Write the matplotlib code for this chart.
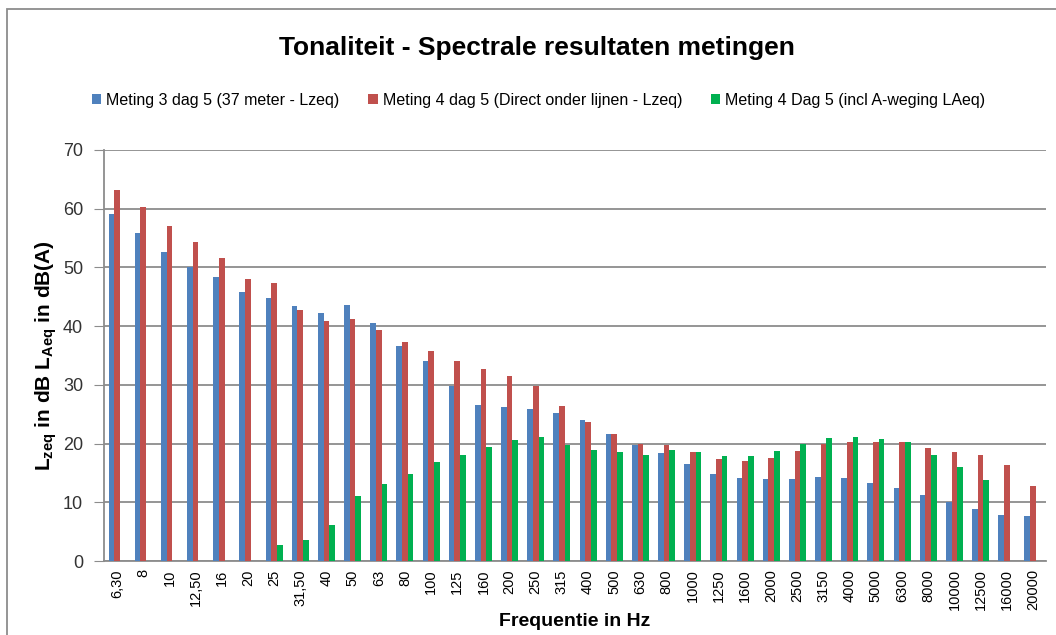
import matplotlib
matplotlib.use("Agg")
import matplotlib.pyplot as plt
import numpy as np
from matplotlib.patches import Rectangle

plt.rcParams['font.family'] = ['Liberation Sans', 'DejaVu Sans']
plt.rcParams['mathtext.fontset'] = 'custom'
plt.rcParams['mathtext.rm'] = 'Liberation Sans'
plt.rcParams['mathtext.bf'] = 'Liberation Sans:bold'

# Data
freqs = ["6,30", "8", "10", "12,50", "16", "20", "25", "31,50", "40", "50",
         "63", "80", "100", "125", "160", "200", "250", "315", "400", "500",
         "630", "800", "1000", "1250", "1600", "2000", "2500", "3150", "4000", "5000",
         "6300", "8000", "10000", "12500", "16000", "20000"]
meting3 = [59.1, 55.9, 52.7, 50.1, 48.3, 45.9, 44.8, 43.5, 42.2, 43.6,
           40.6, 36.6, 34.0, 29.8, 26.5, 26.2, 25.9, 25.2, 24.1, 21.6,
           19.8, 18.4, 16.6, 14.9, 14.1, 13.9, 13.9, 14.3, 14.2, 13.3,
           12.4, 11.3, 10.0, 8.9, 7.9, 7.6]
meting4 = [63.2, 60.3, 57.0, 54.3, 51.6, 48.0, 47.3, 42.8, 40.8, 41.2,
           39.3, 37.3, 35.8, 34.1, 32.7, 31.5, 29.8, 26.4, 23.7, 21.7,
           19.9, 19.8, 18.5, 17.4, 17.0, 17.6, 18.8, 19.9, 20.2, 20.2,
           20.3, 19.2, 18.6, 18.1, 16.4, 12.7]
meting4_a = [np.nan, np.nan, np.nan, np.nan, np.nan, np.nan, 2.8, 3.6, 6.2, 11.1,
             13.2, 14.9, 16.8, 18.1, 19.4, 20.6, 21.2, 19.8, 18.9, 18.5,
             18.0, 18.9, 18.5, 17.9, 17.9, 18.8, 20.0, 21.0, 21.2, 20.7,
             20.2, 18.1, 16.0, 13.8, np.nan, np.nan]

labels = ["Meting 3 dag 5 (37 meter - Lzeq)",
          "Meting 4 dag 5 (Direct onder lijnen - Lzeq)",
          "Meting 4 Dag 5 (incl A-weging LAeq)"]
colors = ["#4F81BD", "#C0504D", "#00B050"]

fig = plt.figure(figsize=(10.56, 6.35), dpi=100)
ax = fig.add_axes([0.0985, 0.1165, 0.892, 0.6473])

x = np.arange(len(freqs))
w = 0.218
for i, (vals, lab, col) in enumerate(zip([meting3, meting4, meting4_a], labels, colors)):
    ax.bar(x + (i - 1) * w, vals, width=w, color=col, label=lab, zorder=3)

ax.set_xlim(-0.5, len(freqs) - 0.5)
ax.set_ylim(0, 70)
ax.set_yticks(range(0, 71, 10))
ax.yaxis.grid(True, color="#8c8c8c", linewidth=1.3, zorder=0)
ax.set_axisbelow(True)
for s in ["top", "right"]:
    ax.spines[s].set_visible(False)
ax.spines["left"].set_color("#8c8c8c")
ax.spines["bottom"].set_color("#8c8c8c")
ax.spines["left"].set_linewidth(1.3)
ax.spines["bottom"].set_linewidth(1.3)

ax.set_xticks(x)
ax.set_xticklabels(freqs, rotation=90, fontsize=10.5)
ax.tick_params(axis="x", length=0, pad=6)
ax.tick_params(axis="y", length=7, color="#8c8c8c", labelsize=13, pad=8, labelcolor="#333333")

ax.set_ylabel(r"L$_{\mathbf{zeq}}$ in dB L$_{\mathbf{Aeq}}$ in dB(A)",
              fontsize=15, fontweight="bold", labelpad=3)
fig.text(575 / 1056, 1 - 621 / 635, "Frequentie in Hz",
         ha="center", va="center", fontsize=14, fontweight="bold")

fig.text(0.508, 0.925, "Tonaliteit - Spectrale resultaten metingen",
         ha="center", va="center", fontsize=19, fontweight="bold")

fig.legend(loc="center", bbox_to_anchor=(0.51, 0.842), ncol=3, frameon=False,
           fontsize=11.5, handlelength=0.6, handleheight=0.6, handletextpad=0.3,
           columnspacing=1.8)

# outer chart frame (clipped at right/bottom as in the reference)
fig.patches.append(Rectangle((7 / 1056, -0.1), 1.2, 1 - 9 / 635 + 0.1,
                             transform=fig.transFigure, fill=False,
                             edgecolor="#8c8c8c", linewidth=1.3))

fig.savefig("out.png", dpi=100)
